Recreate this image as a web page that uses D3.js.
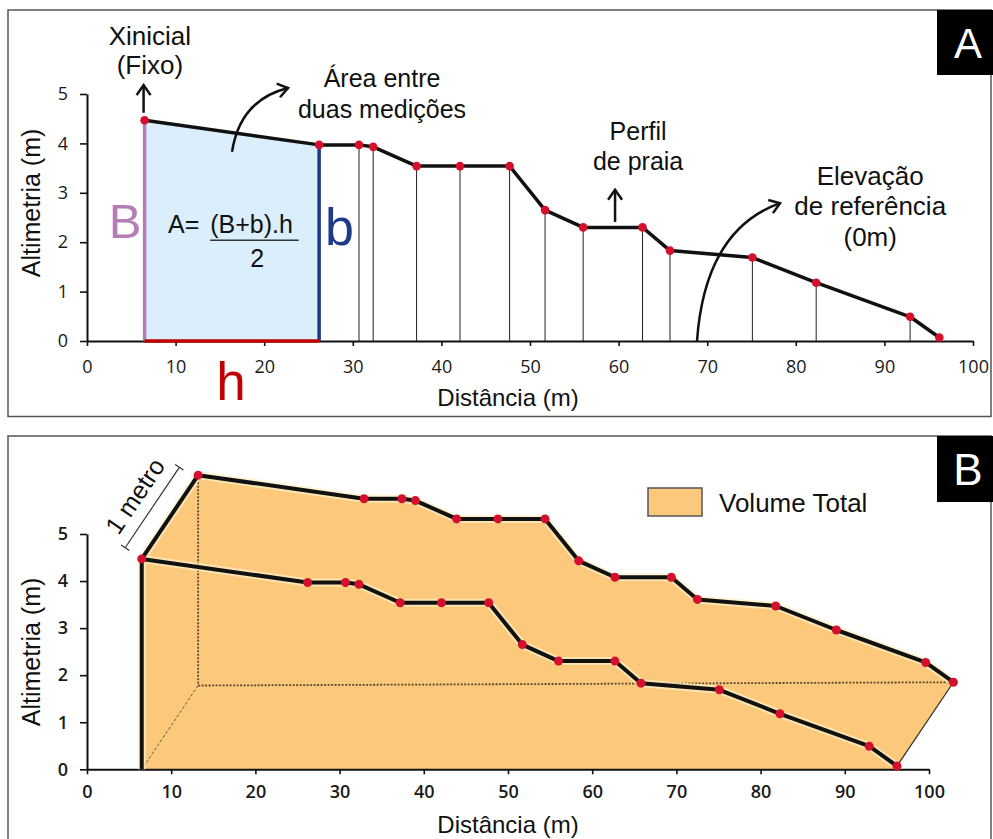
<!DOCTYPE html>
<html><head><meta charset="utf-8">
<script src="https://cdn.jsdelivr.net/npm/d3@7"></script>
<style>body{margin:0;background:#fff} svg{display:block}</style>
</head><body>
<svg id="c" width="993" height="839"></svg>
<script>
// ---------- data ----------
const profileX = [6.5, 26.2, 30.7, 32.3, 37.2, 42.1, 47.7, 51.7, 56.0, 62.7, 65.8, 75.1, 82.3, 92.9, 96.2];
const profileY = [4.47, 3.97, 3.97, 3.93, 3.54, 3.54, 3.54, 2.65, 2.30, 2.30, 1.83, 1.69, 1.18, 0.49, 0.07];
const xTicks = [0, 10, 20, 30, 40, 50, 60, 70, 80, 90, 100];
const yTicks = [0, 1, 2, 3, 4, 5];
const depthX = 6.7;   // oblique projection of the 1 m depth (x units)
const depthY = 1.78;  // oblique projection of the 1 m depth (y units)
const xTitle = "Distância (m)";
const yTitle = "Altimetria (m)";
const legendLabel = "Volume Total";

const pts = profileX.map((x, i) => ({x, y: profileY[i]}));
const back = pts.map(d => ({x: d.x + depthX, y: d.y + depthY}));

const svg = d3.select("#c");
const LABEL = "'Liberation Sans', Arial, sans-serif";
const TICK = "'Open Sans', 'Liberation Sans', sans-serif";
const RED = "#d6102c";

// arrow marker
const defs = svg.append("defs");
defs.append("marker").attr("id", "arr").attr("viewBox", "-12 -9 14 18")
  .attr("refX", 0).attr("refY", 0).attr("markerWidth", 14).attr("markerHeight", 18)
  .attr("markerUnits", "userSpaceOnUse").attr("orient", "auto")
  .append("path").attr("d", "M-10,-7 L0,0 L-10,7").attr("fill", "none")
  .attr("stroke", "#111").attr("stroke-width", 2.5).attr("stroke-linejoin", "miter");

function styleAxis(g, weight) {
  g.select(".domain").attr("stroke", "#111").attr("stroke-width", 2);
  g.selectAll(".tick line").attr("stroke", "#111").attr("stroke-width", 1.6);
  g.selectAll(".tick text").attr("font-family", TICK).attr("font-size", 18)
    .attr("fill", "#1a1a1a").attr("font-weight", weight);
}
const fmt = d3.format("d");

// ================= PANEL A =================
const xA = d3.scaleLinear().domain([0, 100]).range([87, 973]);
const yA = d3.scaleLinear().domain([0, 5]).range([341, 94]);

svg.append("rect").attr("x", 8).attr("y", 10).attr("width", 983).attr("height", 406.5)
  .attr("fill", "none").attr("stroke", "#555").attr("stroke-width", 1.5);

// trapezoid fill
svg.append("path").datum(pts.slice(0, 2))
  .attr("d", d3.area().x(d => xA(d.x)).y0(yA(0)).y1(d => yA(d.y)))
  .attr("fill", "#dbeefb");

// thin verticals
svg.append("g").selectAll("line").data(pts.slice(2)).join("line")
  .attr("x1", d => xA(d.x)).attr("x2", d => xA(d.x))
  .attr("y1", yA(0)).attr("y2", d => yA(d.y))
  .attr("stroke", "#222").attr("stroke-width", 1);

// axes
const gxA = svg.append("g").attr("transform", `translate(0,${yA(0)})`)
  .call(d3.axisBottom(xA).tickValues(xTicks).tickFormat(fmt).tickSize(5).tickSizeOuter(0).tickPadding(14));
styleAxis(gxA, 400);
const gyA = svg.append("g").attr("transform", `translate(${xA(0)},0)`)
  .call(d3.axisLeft(yA).tickValues(yTicks).tickFormat(fmt).tickSize(7).tickSizeOuter(0).tickPadding(12));
styleAxis(gyA, 400);

// B, b, h segments
svg.append("line").attr("x1", xA(pts[0].x)).attr("x2", xA(pts[0].x))
  .attr("y1", yA(0)).attr("y2", yA(pts[0].y)).attr("stroke", "#b57db5").attr("stroke-width", 3.5);
svg.append("line").attr("x1", xA(pts[1].x)).attr("x2", xA(pts[1].x))
  .attr("y1", yA(0)).attr("y2", yA(pts[1].y)).attr("stroke", "#203a8a").attr("stroke-width", 3.5);
svg.append("line").attr("x1", xA(pts[0].x)).attr("x2", xA(pts[1].x))
  .attr("y1", yA(0)).attr("y2", yA(0)).attr("stroke", "#c00000").attr("stroke-width", 3.5);

// profile line + points
svg.append("path").datum(pts)
  .attr("d", d3.line().x(d => xA(d.x)).y(d => yA(d.y)))
  .attr("fill", "none").attr("stroke", "#111").attr("stroke-width", 3.5).attr("stroke-linejoin", "round");
svg.append("g").selectAll("circle").data(pts).join("circle")
  .attr("cx", d => xA(d.x)).attr("cy", d => yA(d.y)).attr("r", 4.3).attr("fill", RED);

// axis titles
svg.append("text").attr("x", 508).attr("y", 406).attr("text-anchor", "middle")
  .attr("font-family", LABEL).attr("font-size", 24).attr("fill", "#111").text(xTitle);
svg.append("text").attr("transform", `translate(40,203) rotate(-90)`).attr("text-anchor", "middle")
  .attr("font-family", LABEL).attr("font-size", 25).attr("fill", "#111").text(yTitle);

// annotations
function label(x, y, lines, size, lh, anchor) {
  const t = svg.append("text").attr("font-family", LABEL).attr("font-size", size)
    .attr("fill", "#111").attr("text-anchor", anchor || "middle");
  lines.forEach((s, i) => t.append("tspan").attr("x", x).attr("y", y + i * lh).text(s));
  return t;
}
label(xA(7.1), yA(5.99), ["Xinicial", "(Fixo)"], 26, 29);
svg.append("line").attr("x1", xA(pts[0].x) - 1).attr("x2", xA(pts[0].x) - 1)
  .attr("y1", yA(4.62)).attr("y2", yA(5.18)).attr("stroke", "#111").attr("stroke-width", 2.5)
  .attr("marker-end", "url(#arr)");
label(xA(33.3), yA(5.14), ["Área entre", "duas medições"], 25, 31);
svg.append("path")
  .attr("d", `M${xA(16.37)},${yA(3.83)} Q${xA(17.27)},${yA(4.88)} ${xA(22.69)},${yA(5.12)}`)
  .attr("fill", "none").attr("stroke", "#111").attr("stroke-width", 2.5).attr("marker-end", "url(#arr)");

// formula
label(xA(9.14), yA(2.19), ["A="], 25, 0, "start");
label(xA(13.9), yA(2.19), ["(B+b).h"], 25, 0, "start");
svg.append("line").attr("x1", xA(13.9)).attr("x2", xA(23.9)).attr("y1", yA(2.04)).attr("y2", yA(2.04))
  .attr("stroke", "#333").attr("stroke-width", 1.5);
label(xA(19.2), yA(1.50), ["2"], 25, 0);

svg.append("text").attr("x", xA(4.29)).attr("y", yA(2.09)).attr("text-anchor", "middle")
  .attr("font-family", LABEL).attr("font-size", 49).attr("fill", "#b57db5").text("B");
svg.append("text").attr("x", xA(26.86)).attr("y", yA(1.94)).attr("text-anchor", "start")
  .attr("font-family", LABEL).attr("font-size", 52).attr("fill", "#203a8a").text("b");
svg.append("text").attr("x", xA(16.25)).attr("y", yA(-1.19)).attr("text-anchor", "middle")
  .attr("font-family", LABEL).attr("font-size", 53).attr("fill", "#c00000").text("h");

label(xA(62.2), yA(4.07), ["Perfil", "de praia"], 25, 30);
svg.append("line").attr("x1", xA(59.6)).attr("x2", xA(59.6))
  .attr("y1", yA(2.41)).attr("y2", yA(3.06)).attr("stroke", "#111").attr("stroke-width", 2.5)
  .attr("marker-end", "url(#arr)");
label(xA(88.4), yA(3.16), ["Elevação", "de referência", "(0m)"], 26, 30.5);
svg.append("path")
  .attr("d", `M${xA(68.85)},${yA(0.0)} Q${xA(69.75)},${yA(2.25)} ${xA(78.22)},${yA(2.79)}`)
  .attr("fill", "none").attr("stroke", "#111").attr("stroke-width", 2.5).attr("marker-end", "url(#arr)");

// panel tag A
svg.append("rect").attr("x", 937).attr("y", 10).attr("width", 60).attr("height", 65).attr("fill", "#000");
svg.append("text").attr("x", 968).attr("y", 58).attr("text-anchor", "middle")
  .attr("font-family", LABEL).attr("font-size", 42).attr("fill", "#fff").text("A");

// ================= PANEL B =================
const xB = d3.scaleLinear().domain([0, 100]).range([87, 929]);
const yB = d3.scaleLinear().domain([0, 5]).range([769.3, 534]);
const ORANGE = "#fcc97c";

svg.append("rect").attr("x", 8).attr("y", 436).attr("width", 983).attr("height", 430)
  .attr("fill", "none").attr("stroke", "#555").attr("stroke-width", 1.5);

const first = pts[0], last = pts[pts.length - 1];
const bFirst = back[0], bLast = back[back.length - 1];

// volume fill
const poly = [{x: first.x, y: 0}, first, ...back, last, {x: last.x, y: 0}];
svg.append("path").datum(poly)
  .attr("d", d3.line().x(d => xB(d.x)).y(d => yB(d.y)).curve(d3.curveLinearClosed))
  .attr("fill", ORANGE);

// hidden edges (dotted)
const bBase = {x: first.x + depthX, y: depthY};
function seg(a, b, stroke, w, dash) {
  svg.append("line").attr("x1", xB(a.x)).attr("y1", yB(a.y)).attr("x2", xB(b.x)).attr("y2", yB(b.y))
    .attr("stroke", stroke).attr("stroke-width", w).attr("stroke-dasharray", dash || null);
}
seg(bFirst, bBase, "#5a4a30", 1.8, "2,1.5");
seg(bBase, bLast, "#5a4a30", 1.8, "2,1.5");
seg(bBase, {x: first.x, y: 0}, "#6a5a40", 1, "3,2");
seg(bLast, last, "#333", 1.3);

// axes
const gxB = svg.append("g").attr("transform", `translate(0,${yB(0)})`)
  .call(d3.axisBottom(xB).tickValues(xTicks).tickFormat(fmt).tickSize(5).tickSizeOuter(0).tickPadding(11));
styleAxis(gxB, 600);
const gyB = svg.append("g").attr("transform", `translate(${xB(0)},0)`)
  .call(d3.axisLeft(yB).tickValues(yTicks).tickFormat(fmt).tickSize(7).tickSizeOuter(0).tickPadding(12));
styleAxis(gyB, 600);

// thick edges with glow
const lineB = d3.line().x(d => xB(d.x)).y(d => yB(d.y));
const edges = [pts, back, [{x: first.x, y: 0}, first, bFirst]];
edges.forEach(e => svg.append("path").datum(e).attr("d", lineB).attr("fill", "none")
  .attr("stroke", "#fff0c4").attr("stroke-width", 8).attr("stroke-linejoin", "round").attr("opacity", 0.7));
edges.forEach(e => svg.append("path").datum(e).attr("d", lineB).attr("fill", "none")
  .attr("stroke", "#111").attr("stroke-width", 4).attr("stroke-linejoin", "round"));

svg.append("g").selectAll("circle").data(pts.concat(back)).join("circle")
  .attr("cx", d => xB(d.x)).attr("cy", d => yB(d.y)).attr("r", 4.5).attr("fill", RED);

// "1 metro" dimension
const p0 = [xB(first.x), yB(first.y)], p1 = [xB(bFirst.x), yB(bFirst.y)];
const len = Math.hypot(p1[0] - p0[0], p1[1] - p0[1]);
const u = [(p1[0] - p0[0]) / len, (p1[1] - p0[1]) / len];
const n = [u[1], -u[0]];
const off = 20;
const s0 = [p0[0] + n[0] * off, p0[1] + n[1] * off];
const s1 = [p1[0] + n[0] * off - u[0] * 4, p1[1] + n[1] * off - u[1] * 4];
svg.append("line").attr("x1", s0[0]).attr("y1", s0[1]).attr("x2", s1[0]).attr("y2", s1[1])
  .attr("stroke", "#333").attr("stroke-width", 1.2);
[s0, s1].forEach(s => svg.append("line")
  .attr("x1", s[0] - n[0] * 5).attr("y1", s[1] - n[1] * 5).attr("x2", s[0] + n[0] * 5).attr("y2", s[1] + n[1] * 5)
  .attr("stroke", "#333").attr("stroke-width", 1.2));
const mid = [(s0[0] + s1[0]) / 2 + n[0] * 12, (s0[1] + s1[1]) / 2 + n[1] * 12];
const ang = Math.atan2(u[1], u[0]) * 180 / Math.PI;
svg.append("text").attr("transform", `translate(${mid[0]},${mid[1]}) rotate(${ang})`)
  .attr("text-anchor", "middle").attr("font-family", LABEL).attr("font-size", 25).attr("fill", "#111")
  .text("1 metro");

// legend
svg.append("rect").attr("x", 648).attr("y", 488).attr("width", 54).attr("height", 28)
  .attr("fill", ORANGE).attr("stroke", "#555").attr("stroke-width", 1.5);
svg.append("text").attr("x", 719).attr("y", 512).attr("font-family", LABEL).attr("font-size", 26)
  .attr("fill", "#111").text(legendLabel);

// titles
svg.append("text").attr("x", 508).attr("y", 833).attr("text-anchor", "middle")
  .attr("font-family", LABEL).attr("font-size", 24).attr("fill", "#111").text(xTitle);
svg.append("text").attr("transform", `translate(40,652) rotate(-90)`).attr("text-anchor", "middle")
  .attr("font-family", LABEL).attr("font-size", 25).attr("fill", "#111").text(yTitle);

// panel tag B
svg.append("rect").attr("x", 937).attr("y", 436).attr("width", 60).attr("height", 66).attr("fill", "#000");
svg.append("text").attr("x", 968).attr("y", 485).attr("text-anchor", "middle")
  .attr("font-family", LABEL).attr("font-size", 44).attr("fill", "#fff").text("B");
</script>
</body></html>
